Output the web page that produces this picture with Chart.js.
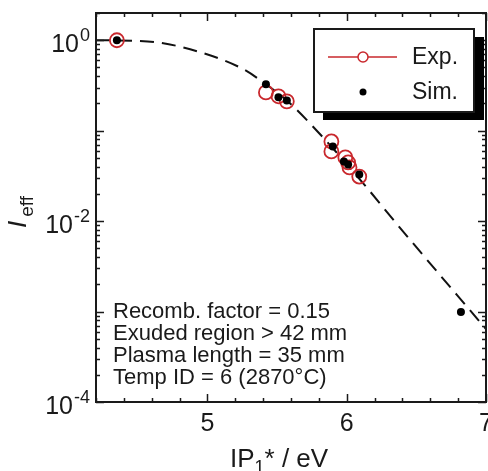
<!DOCTYPE html>
<html>
<head>
<meta charset="utf-8">
<script src="https://cdn.jsdelivr.net/npm/chart.js@4.4.0/dist/chart.umd.min.js"></script>
<style>
  body { margin: 0; background: #fff; }
  #chart-container { width: 488px; height: 471px; }
</style>
</head>
<body>
<div id="chart-container"><canvas id="ieffChart" width="488" height="471"></canvas></div>
<script>
// Dados experimentais (círculos vermelhos)
const expX = [4.35, 5.42, 5.51, 5.57, 5.89, 5.89, 5.99, 6.01, 6.02, 6.09];
const expY = [1.0, 0.265, 0.240, 0.211, 0.076, 0.059, 0.0506, 0.0445, 0.0392, 0.0311];

// Dados simulados (pontos pretos)
const simX = [4.35, 5.42, 5.51, 5.57, 5.90, 5.98, 6.01, 6.09, 6.82];
const simY = [1.0, 0.325, 0.234, 0.216, 0.0669, 0.0456, 0.0423, 0.0327, 0.00099];

// Curva tracejada do modelo
const fitX = [4.2, 4.47, 4.66, 4.95, 5.26, 5.41, 5.57, 5.83, 6.12, 6.37, 7.0];
const fitY = [1.0, 0.987, 0.938, 0.736, 0.477, 0.334, 0.216, 0.0842, 0.026, 0.0089, 0.00064];

// Rótulos dos eixos
const xTickLabels = [5, 6, 7];
const yTickExps = [0, -2, -4];

// Texto de anotação
const noteLines = [
    'Recomb. factor = 0.15',
    'Exuded region > 42 mm',
    'Plasma length = 35 mm',
    'Temp ID = 6 (2870\u00B0C)'
];

const red = '#c9282d';
const ink = '#1a1a1a';
const fontName = '"Liberation Sans", Arial, sans-serif';

function toPoints(xs, ys) {
    return xs.map((x, i) => ({ x: x, y: ys[i] }));
}

// Desenha texto com expoente (10^n)
function drawPower(ctx, exp, rightX, baseY) {
    ctx.textAlign = 'right';
    ctx.textBaseline = 'alphabetic';
    ctx.font = '18px ' + fontName;
    const expText = exp === 0 ? '0' : '-' + Math.abs(exp);
    const w = ctx.measureText(expText).width;
    ctx.fillText(expText, rightX, baseY - 11);
    ctx.font = '25px ' + fontName;
    ctx.fillText('10', rightX - w - 1, baseY);
}

// Plugin para moldura, ticks internos, rótulos, legenda e anotação
const decorations = {
    id: 'decorations',
    afterDatasetsDraw(chart) {
        const ctx = chart.ctx;
        const a = chart.chartArea;
        const xs = chart.scales.x;
        const ys = chart.scales.y;
        ctx.save();
        ctx.strokeStyle = ink;
        ctx.fillStyle = ink;

        // ticks do eixo x (baixo e topo)
        ctx.lineWidth = 1.5;
        ctx.beginPath();
        for (let i = 21; i <= 35; i++) {
            const v = i / 5;
            const px = Math.round(xs.getPixelForValue(v)) + 0.5;
            const len = (i % 5 === 0) ? 8 : 4;
            ctx.moveTo(px, a.bottom); ctx.lineTo(px, a.bottom - len);
            ctx.moveTo(px, a.top); ctx.lineTo(px, a.top + len);
        }
        // ticks do eixo y (esquerda e direita)
        for (let k = -4; k <= 0; k++) {
            for (let m = 1; m <= 9; m++) {
                const v = m * Math.pow(10, k);
                if (v > ys.max) continue;
                const py = Math.round(ys.getPixelForValue(v)) + 0.5;
                const len = (m === 1) ? 8 : 4;
                ctx.moveTo(a.left, py); ctx.lineTo(a.left + len, py);
                ctx.moveTo(a.right, py); ctx.lineTo(a.right - len, py);
            }
        }
        ctx.stroke();

        // moldura
        ctx.lineWidth = 2;
        ctx.strokeRect(a.left, a.top, a.right - a.left, a.bottom - a.top);

        // rótulos x
        ctx.font = '25px ' + fontName;
        ctx.textAlign = 'center';
        ctx.textBaseline = 'alphabetic';
        xTickLabels.forEach(v => {
            ctx.fillText(String(v), xs.getPixelForValue(v), a.bottom + 29);
        });

        // rótulos y
        yTickExps.forEach(e => {
            drawPower(ctx, e, 90, ys.getPixelForValue(Math.pow(10, e)) + 12);
        });

        // título do eixo x: IP1* / eV
        ctx.textAlign = 'left';
        let tx = 230;
        const ty = 467;
        ctx.font = '26px ' + fontName;
        ctx.fillText('IP', tx, ty);
        tx += ctx.measureText('IP').width;
        ctx.font = '18px ' + fontName;
        ctx.fillText('1', tx, ty + 6);
        tx += ctx.measureText('1').width;
        ctx.font = '26px ' + fontName;
        ctx.fillText('* / eV', tx, ty);

        // título do eixo y: I_eff
        ctx.save();
        ctx.translate(26, 212);
        ctx.rotate(-Math.PI / 2);
        ctx.font = 'italic 26px ' + fontName;
        const wI = ctx.measureText('I').width;
        ctx.font = '19px ' + fontName;
        const wSub = ctx.measureText('eff').width;
        const start = -(wI + wSub + 4) / 2;
        ctx.font = 'italic 26px ' + fontName;
        ctx.fillText('I', start, 0);
        ctx.font = '19px ' + fontName;
        ctx.fillText('eff', start + wI + 4, 7);
        ctx.restore();

        // anotação
        ctx.font = '22px ' + fontName;
        ctx.textAlign = 'left';
        noteLines.forEach((line, i) => {
            ctx.fillText(line, 113, 318 + i * 22);
        });

        // legenda com sombra
        const lx = 314, ly = 29, lw = 160, lh = 83;
        ctx.fillStyle = '#000';
        ctx.fillRect(lx + 9, ly + 8, lw + 1, lh);
        ctx.fillStyle = '#fff';
        ctx.fillRect(lx, ly, lw, lh);
        ctx.lineWidth = 2;
        ctx.strokeStyle = ink;
        ctx.strokeRect(lx, ly, lw, lh);

        const dsExp = chart.data.datasets[1];
        const dsSim = chart.data.datasets[0];
        ctx.strokeStyle = red;
        ctx.lineWidth = 1.5;
        ctx.beginPath();
        ctx.moveTo(328, 57); ctx.lineTo(397, 57);
        ctx.stroke();
        ctx.beginPath();
        ctx.arc(363, 57, 5, 0, Math.PI * 2);
        ctx.fillStyle = '#fff';
        ctx.fill();
        ctx.stroke();
        ctx.beginPath();
        ctx.arc(363, 92, 3.5, 0, Math.PI * 2);
        ctx.fillStyle = '#000';
        ctx.fill();

        ctx.fillStyle = ink;
        ctx.font = '23px ' + fontName;
        ctx.fillText(dsExp.label, 412, 64);
        ctx.fillText(dsSim.label, 412, 99);
        ctx.restore();
    }
};

const ctx = document.getElementById('ieffChart').getContext('2d');
new Chart(ctx, {
    type: 'line',
    data: {
        datasets: [{
            label: 'Sim.',
            data: toPoints(simX, simY),
            showLine: false,
            pointRadius: 4,
            pointBackgroundColor: '#000',
            pointBorderColor: '#000',
            pointBorderWidth: 0
        }, {
            label: 'Exp.',
            data: toPoints(expX, expY),
            showLine: false,
            pointRadius: 7,
            pointBackgroundColor: 'rgba(255,255,255,0)',
            pointBorderColor: red,
            pointBorderWidth: 1.8
        }, {
            label: 'Fit',
            data: toPoints(fitX, fitY),
            borderColor: '#111',
            borderWidth: 2,
            borderDash: [14, 8],
            pointRadius: 0,
            cubicInterpolationMode: 'monotone',
            fill: false
        }]
    },
    options: {
        responsive: false,
        animation: false,
        layout: { autoPadding: false, padding: { left: 96, right: 2, top: 13, bottom: 69 } },
        plugins: { legend: { display: false }, tooltip: { enabled: false } },
        scales: {
            x: { type: 'linear', min: 4.2, max: 7.0, display: false },
            y: { type: 'logarithmic', min: 1e-4, max: 2, display: false }
        }
    },
    plugins: [decorations]
});
</script>
</body>
</html>
